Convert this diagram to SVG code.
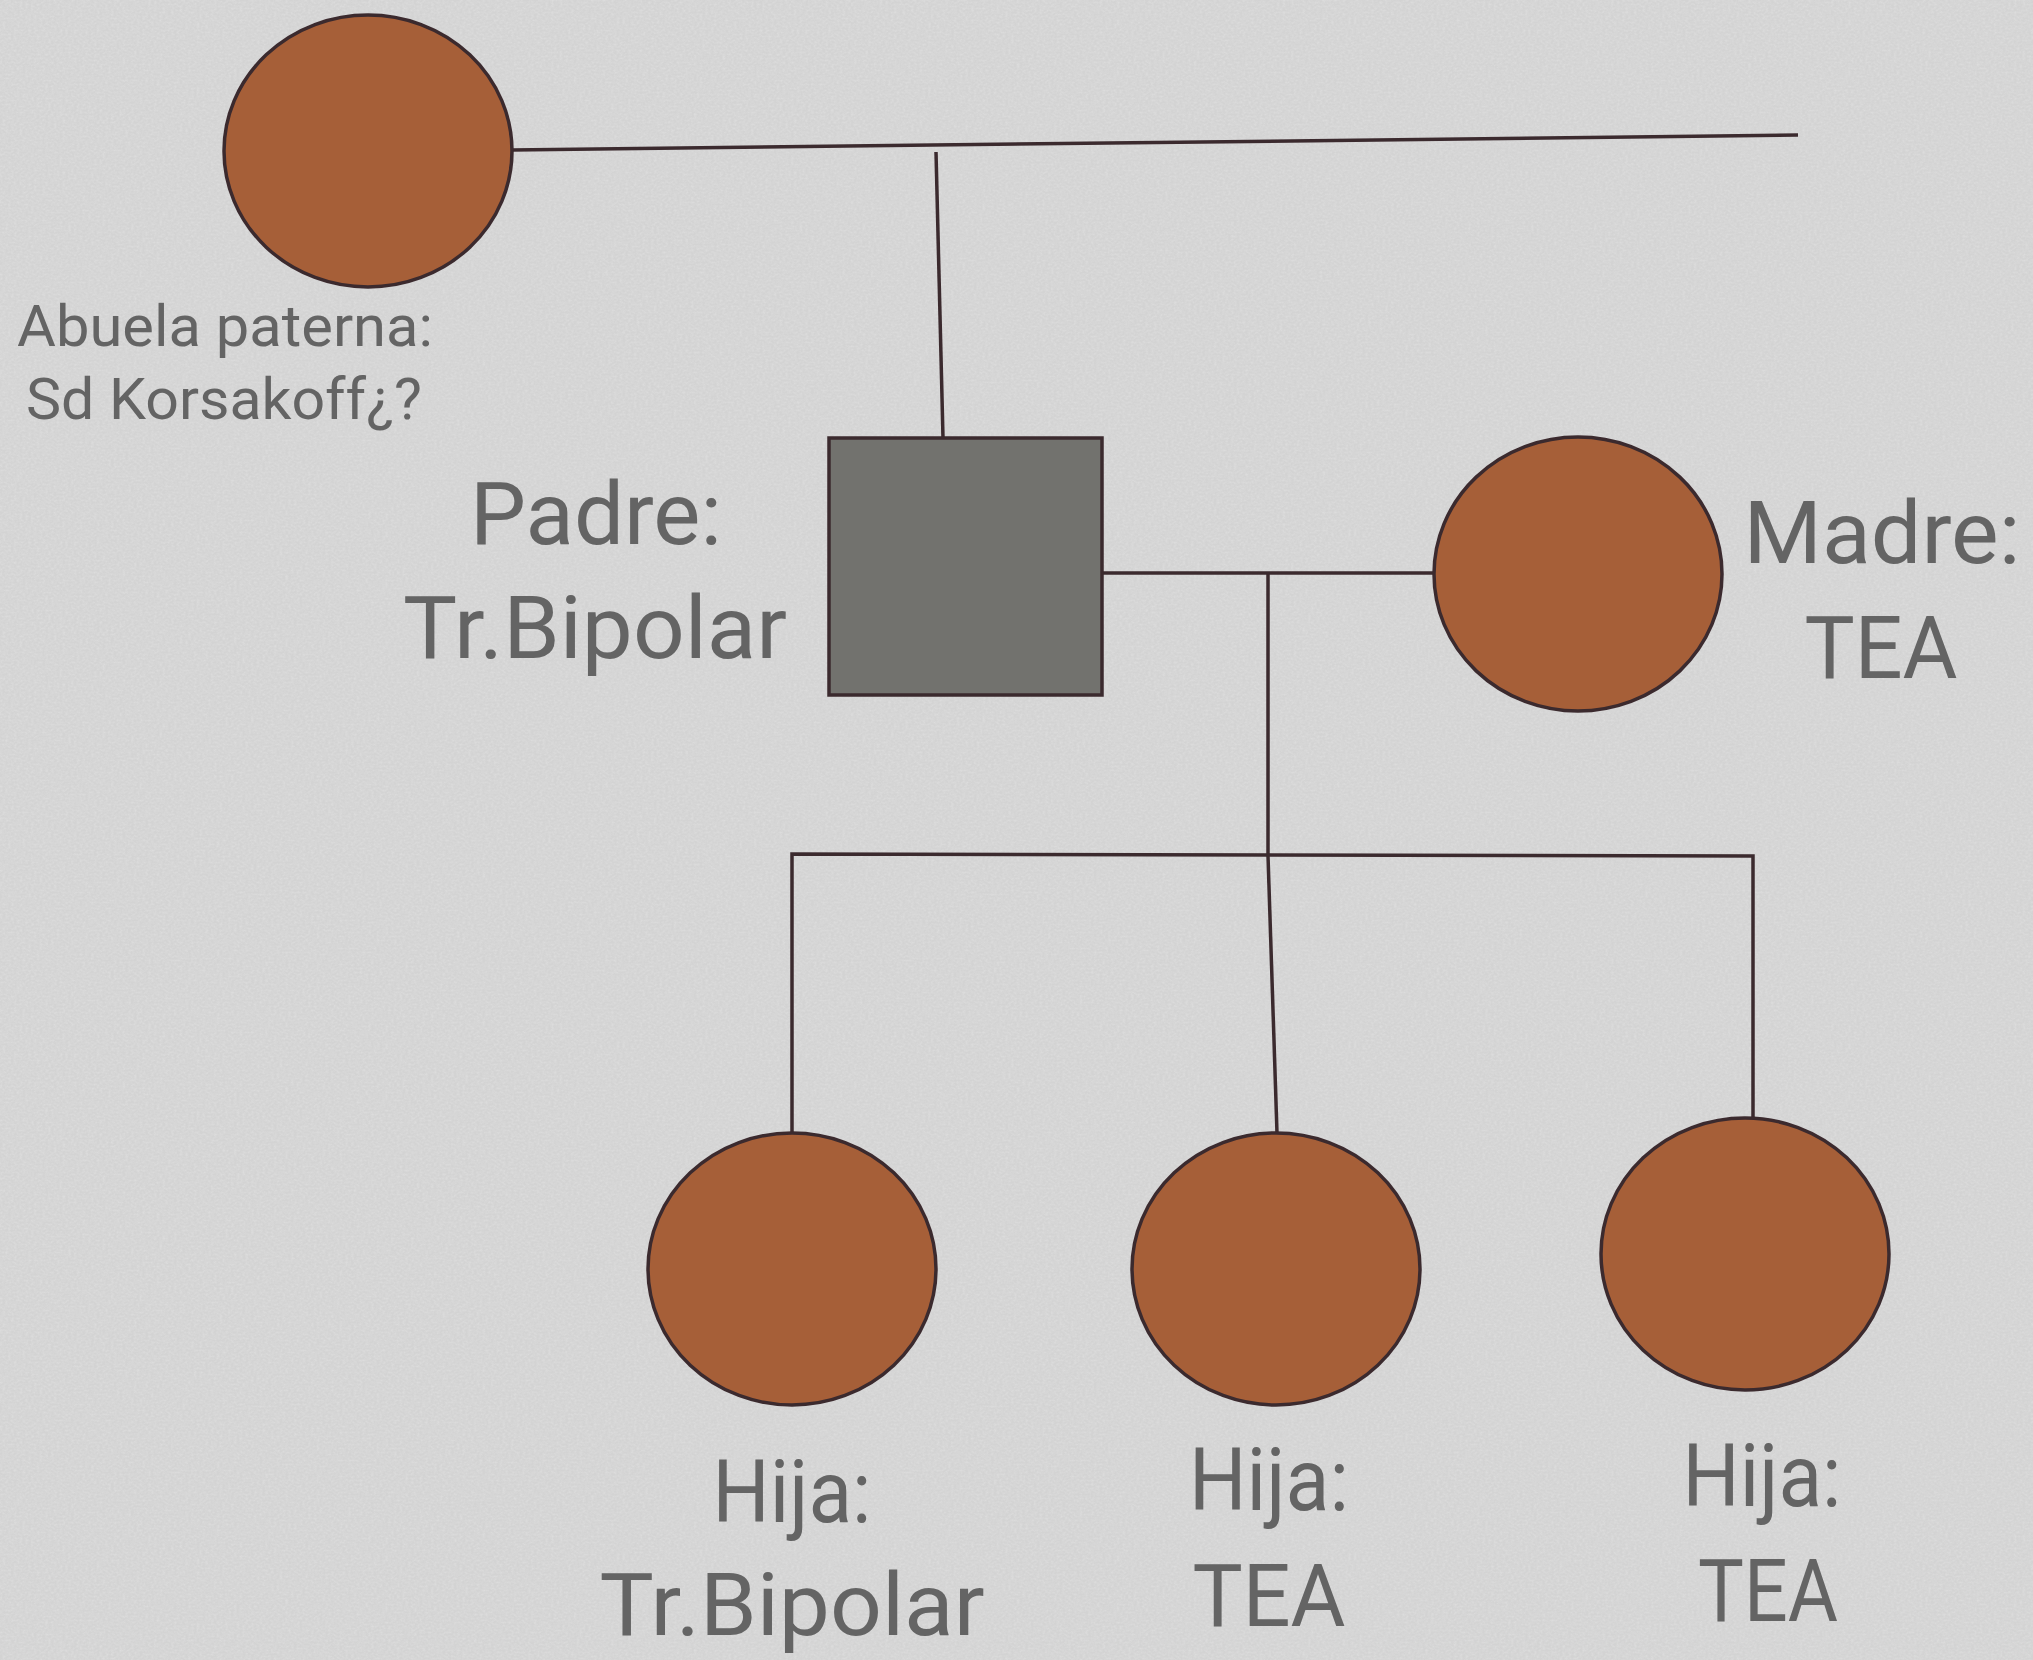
<svg xmlns="http://www.w3.org/2000/svg" width="2033" height="1660" viewBox="0 0 2033 1660">
  <defs>
    <filter id="canvas" x="0" y="0" width="100%" height="100%">
      <feTurbulence type="fractalNoise" baseFrequency="0.35 0.5" numOctaves="2" seed="4" result="n"/>
      <feColorMatrix in="n" type="matrix" values="0 0 0 0 1  0 0 0 0 1  0 0 0 0 1  0 0 0 0.35 -0.12" result="w"/>
      <feComposite in="w" in2="SourceGraphic" operator="atop"/>
    </filter>
    <style>
      .female { fill: #a65f38; stroke: #3b2a2e; stroke-width: 3.5; }
      .male { fill: #72726e; stroke: #3b2a2e; stroke-width: 3.5; }
      .link { fill: none; stroke: #3b2a2e; stroke-width: 3.5; stroke-linecap: butt; }
      .lbl { font-family: Roboto, "Liberation Sans", sans-serif; fill: #646464; text-anchor: middle; }
      .big { font-size: 88px; }
      .small { font-size: 57px; }
    </style>
  </defs>

  <!-- canvas background -->
  <rect width="2033" height="1660" fill="#d3d3d3" filter="url(#canvas)"/>

  <!-- connectors -->
  <g id="connectors">
    <path class="link" d="M512 150 L1798 135"/>
    <path class="link" d="M936 152 L943 438"/>
    <path class="link" d="M1102 573 L1434 573"/>
    <path class="link" d="M1268 573 L1268 856"/>
    <path class="link" d="M792 1134 L792 854 L1753 856 L1753 1118"/>
    <path class="link" d="M1268 856 L1277 1133"/>
  </g>

  <!-- paternal grandmother -->
  <g id="abuela">
    <ellipse class="female" cx="368" cy="151" rx="144" ry="136"/>
    <text class="lbl small" x="225" y="346" textLength="416" lengthAdjust="spacingAndGlyphs">Abuela paterna:</text>
    <text class="lbl small" x="224" y="419" textLength="396" lengthAdjust="spacingAndGlyphs">Sd Korsakoff¿?</text>
  </g>

  <!-- father -->
  <g id="padre">
    <rect class="male" x="829" y="438" width="273" height="257"/>
    <text class="lbl big" x="596" y="544" textLength="252" lengthAdjust="spacingAndGlyphs">Padre:</text>
    <text class="lbl big" x="595" y="658" textLength="384" lengthAdjust="spacingAndGlyphs">Tr.Bipolar</text>
  </g>

  <!-- mother -->
  <g id="madre">
    <ellipse class="female" cx="1578" cy="574" rx="144" ry="137"/>
    <text class="lbl big" x="1882" y="563" textLength="277" lengthAdjust="spacingAndGlyphs">Madre:</text>
    <text class="lbl big" x="1881" y="678" textLength="153" lengthAdjust="spacingAndGlyphs">TEA</text>
  </g>

  <!-- daughter 1 -->
  <g id="hija1">
    <ellipse class="female" cx="792" cy="1269" rx="144" ry="136"/>
    <text class="lbl big" x="792" y="1522" textLength="159" lengthAdjust="spacingAndGlyphs">Hija:</text>
    <text class="lbl big" x="792" y="1635" textLength="385" lengthAdjust="spacingAndGlyphs">Tr.Bipolar</text>
  </g>

  <!-- daughter 2 -->
  <g id="hija2">
    <ellipse class="female" cx="1276" cy="1269" rx="144" ry="136"/>
    <text class="lbl big" x="1269" y="1510" textLength="160" lengthAdjust="spacingAndGlyphs">Hija:</text>
    <text class="lbl big" x="1269" y="1626" textLength="153" lengthAdjust="spacingAndGlyphs">TEA</text>
  </g>

  <!-- daughter 3 -->
  <g id="hija3">
    <ellipse class="female" cx="1745" cy="1254" rx="144" ry="136"/>
    <text class="lbl big" x="1762" y="1506" textLength="159" lengthAdjust="spacingAndGlyphs">Hija:</text>
    <text class="lbl big" x="1768" y="1621" textLength="140" lengthAdjust="spacingAndGlyphs">TEA</text>
  </g>
</svg>
